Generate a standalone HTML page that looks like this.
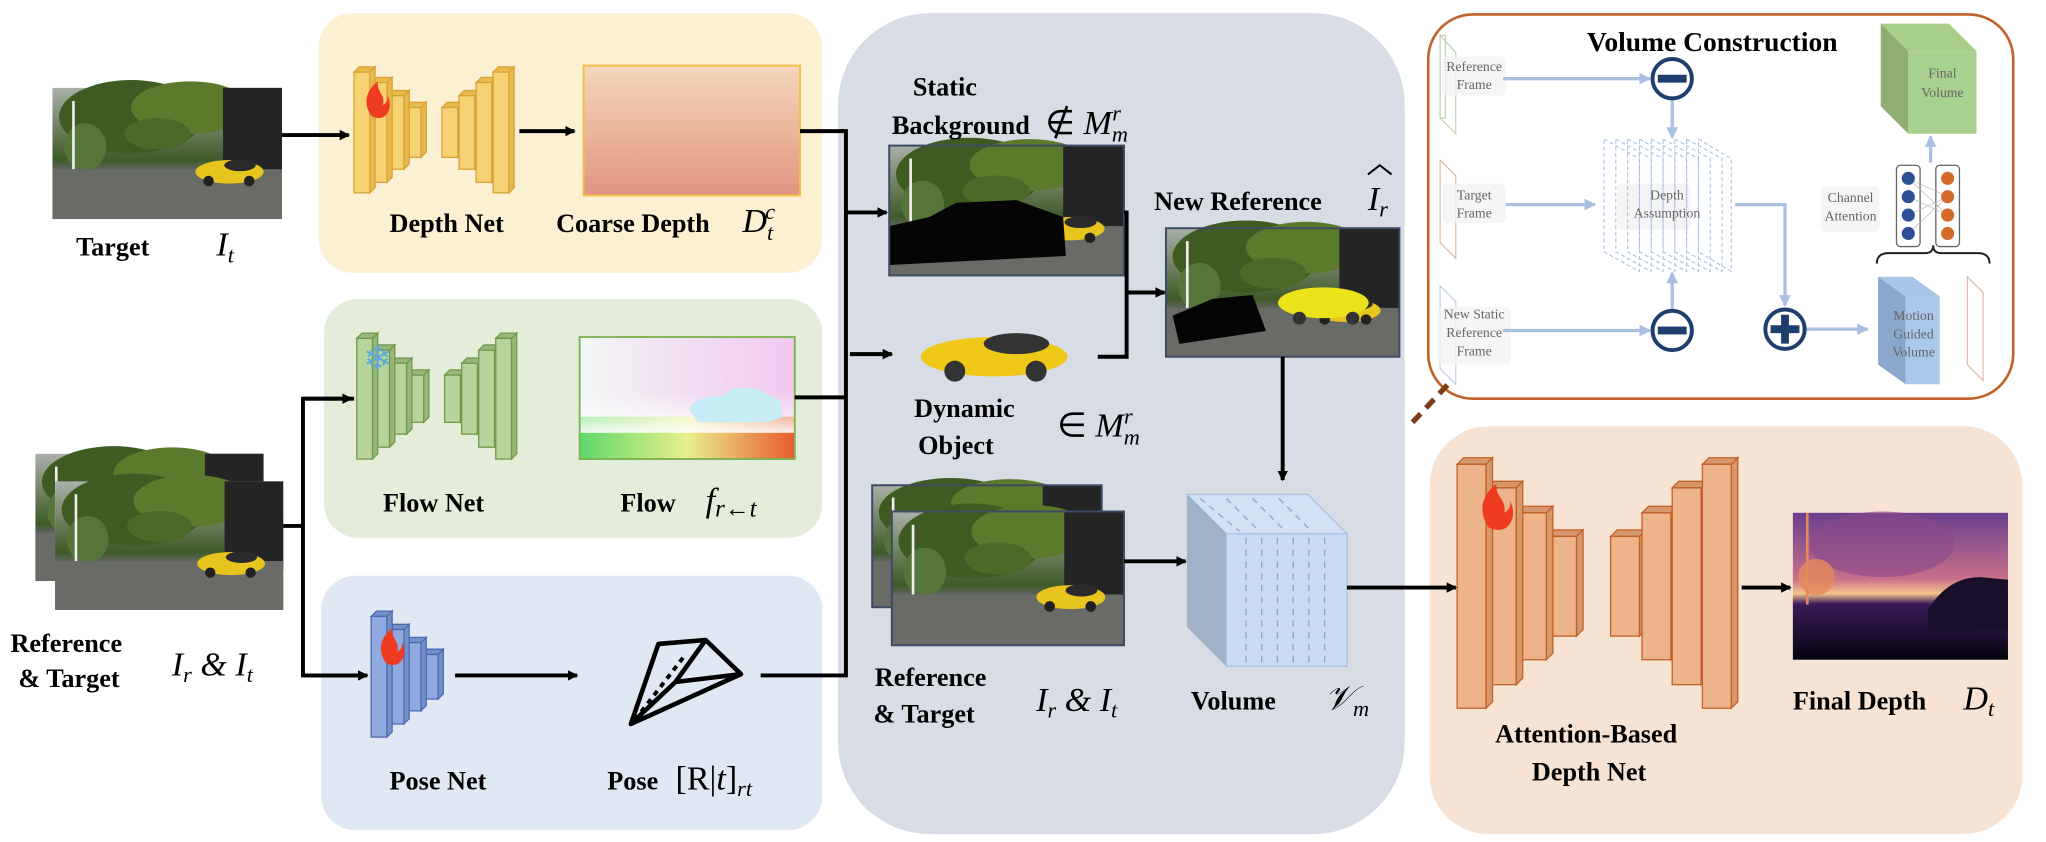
<!DOCTYPE html>
<html><head><meta charset="utf-8"><style>
html,body{margin:0;padding:0;background:#fff;width:2046px;height:842px;overflow:hidden}
svg{display:block}
.b{font-family:"Liberation Serif",serif;font-weight:bold;font-size:20px;fill:#000}
.m{font-family:"Liberation Serif",serif;font-style:italic;font-size:26px;fill:#000}
.s{font-family:"Liberation Serif",serif;font-size:10.5px;fill:#666}
</style></head><body>
<svg id="sv" width="2046" height="842" viewBox="0 0 1560 642" preserveAspectRatio="none" xmlns="http://www.w3.org/2000/svg">
<defs>
<marker id="ah" markerWidth="8" markerHeight="8" refX="7" refY="4" orient="auto" markerUnits="userSpaceOnUse"><path d="M0,0 L8,4 L0,8z" fill="#000"/></marker>
<marker id="al" markerWidth="9" markerHeight="9" refX="8" refY="4.5" orient="auto" markerUnits="userSpaceOnUse"><path d="M0,0 L9,4.5 L0,9z" fill="#a9c0e3"/></marker>
<linearGradient id="sky" x1="0" y1="0" x2="0" y2="1"><stop offset="0" stop-color="#a9b0a8"/><stop offset="0.55" stop-color="#3f5a28"/><stop offset="0.62" stop-color="#5f645f"/><stop offset="1" stop-color="#70736c"/></linearGradient>
<linearGradient id="cd" x1="0" y1="0" x2="0" y2="1"><stop offset="0" stop-color="#f4d8bd"/><stop offset="0.45" stop-color="#ecb99f"/><stop offset="1" stop-color="#df9583"/></linearGradient>
<linearGradient id="fl1" x1="0" y1="0" x2="1" y2="0"><stop offset="0" stop-color="#f2f6f5"/><stop offset="1" stop-color="#f2c8ef"/></linearGradient>
<linearGradient id="fl2" x1="0" y1="0" x2="1" y2="0"><stop offset="0" stop-color="#5fd86a"/><stop offset="0.5" stop-color="#e8ef8c"/><stop offset="1" stop-color="#ea5a2c"/></linearGradient>
<linearGradient id="fl3" x1="0" y1="0" x2="0" y2="1"><stop offset="0" stop-color="#fff" stop-opacity="0"/><stop offset="1" stop-color="#fff" stop-opacity="1"/></linearGradient>
<linearGradient id="fd" x1="0" y1="0" x2="0" y2="1"><stop offset="0" stop-color="#6a3f8e"/><stop offset="0.45" stop-color="#c7708a"/><stop offset="0.55" stop-color="#f4c28a"/><stop offset="0.62" stop-color="#3b1c5a"/><stop offset="1" stop-color="#05040e"/></linearGradient>
<g id="photo">
<rect width="175" height="100" fill="url(#sky)"/>
<ellipse cx="60" cy="22" rx="55" ry="28" fill="#3e5b22"/>
<ellipse cx="105" cy="15" rx="45" ry="20" fill="#5b7a2c"/>
<ellipse cx="80" cy="35" rx="25" ry="12" fill="#4a6a28"/>
<ellipse cx="25" cy="45" rx="16" ry="18" fill="#56753a"/>
<polygon points="130,0 175,0 175,70 130,55" fill="#242424"/>
<rect x="15" y="10" width="2" height="58" fill="#eee"/>
<rect x="0" y="62" width="175" height="38" fill="#686b66"/>
<ellipse cx="135" cy="64" rx="26" ry="9" fill="#e8c51e"/>
<ellipse cx="143" cy="59" rx="12" ry="4.5" fill="#2a2a2a"/>
<circle cx="119" cy="71" r="4" fill="#222"/><circle cx="150" cy="71" r="4" fill="#222"/>
</g>
</defs>

<!-- panels -->
<rect x="243" y="10" width="384" height="198" rx="26" fill="#fbf0d2"/>
<rect x="247" y="228" width="380" height="182" rx="26" fill="#e4ecda"/>
<rect x="245" y="439" width="382" height="194" rx="26" fill="#dfe8f3"/>
<rect x="639" y="10" width="432" height="626" rx="70" fill="#d7dce5"/>
<rect x="1090" y="325" width="452" height="311" rx="45" fill="#f6e3d4"/>
<rect x="1089" y="11" width="446" height="293" rx="34" fill="#fff" stroke="#c0622a" stroke-width="2"/>
<line x1="1077" y1="322" x2="1106" y2="291" stroke="#7a3d17" stroke-width="4" stroke-dasharray="9,6"/>

<!-- photos -->
<use href="#photo" transform="translate(40,67)"/>
<use href="#photo" transform="translate(27,346) scale(0.994,0.97)"/>
<use href="#photo" transform="translate(42,367) scale(0.994,0.98)"/>
<g transform="translate(678,111) scale(1.02,0.99)"><use href="#photo"/><path d="M0,62 L30,55 L50,44 L95,42 L130,55 L132,85 L0,92z" fill="#050505"/></g>
<rect x="678" y="111" width="179" height="99" fill="none" stroke="#3d4a66" stroke-width="1.5"/>
<g transform="translate(889,174) scale(1.017,0.98)"><use href="#photo"/><path d="M5,68 L35,55 L65,52 L75,80 L10,90z" fill="#050505"/><ellipse cx="118" cy="58" rx="34" ry="12" fill="#ece21a"/><circle cx="100" cy="70" r="5" fill="#333"/><circle cx="140" cy="70" r="5" fill="#333"/></g>
<rect x="889" y="174" width="178" height="98" fill="none" stroke="#3d4a66" stroke-width="1.5"/>
<use href="#photo" transform="translate(665,370) scale(1,0.93)"/>
<rect x="665" y="370" width="175" height="93" fill="none" stroke="#3d4a66" stroke-width="1.5"/>
<use href="#photo" transform="translate(680,390) scale(1.011,1.02)"/>
<rect x="680" y="390" width="177" height="102" fill="none" stroke="#3d4a66" stroke-width="1.5"/>
<!-- dynamic car -->
<ellipse cx="758" cy="272" rx="56" ry="15" fill="#f0c818"/>
<ellipse cx="775" cy="262" rx="25" ry="8" fill="#333"/>
<circle cx="728" cy="283" r="8" fill="#333"/><circle cx="790" cy="283" r="8" fill="#333"/>

<!-- coarse depth -->
<rect x="445" y="50" width="165" height="99" fill="url(#cd)" stroke="#f2bf45" stroke-width="1.5"/>
<!-- flow -->
<rect x="442" y="257" width="164" height="93" fill="url(#fl2)" stroke="#7fb455" stroke-width="1.5"/>
<rect x="442.7" y="257.7" width="162.6" height="60" fill="url(#fl1)"/>
<rect x="442.7" y="300" width="162.6" height="30" fill="url(#fl3)" opacity="0.9"/>
<path d="M525,312 Q530,302 550,302 L560,296 L575,296 L595,305 L597,318 L585,322 L532,322z" fill="#c8ecf5"/>
<!-- final depth -->
<rect x="1367" y="391" width="164" height="112" fill="url(#fd)"/>
<ellipse cx="1435" cy="415" rx="55" ry="25" fill="#8a4a8a" opacity="0.6"/>
<ellipse cx="1385" cy="440" rx="14" ry="14" fill="#e58a5a" opacity="0.8"/>
<rect x="1377" y="391" width="2" height="70" fill="#e58a5a"/>
<path d="M1470,465 Q1485,440 1510,440 L1531,442 L1531,480 L1470,482z" fill="#1a0f2a"/>

<g id="bars"></g>

<!-- flames / snowflake -->
<path d="M283,88 C276,78 280,68 288,62 C287,70 294,72 292,80 C296,78 296,74 295,72 C300,80 296,90 289,90 C286,90 284,89 283,88z" fill="#ee3b22"/>
<path d="M294,505 C287,495 291,485 299,479 C298,487 305,489 303,497 C307,495 307,491 306,489 C311,497 307,507 300,507 C297,507 295,506 294,505z" fill="#ee3b22"/>
<path d="M1135,402 C1126,389 1131,376 1141,369 C1140,379 1149,381 1147,391 C1152,388 1152,384 1151,381 C1157,392 1152,404 1143,404 C1139,404 1136,403 1135,402z" fill="#ee3b22"/>
<text x="277" y="282" font-size="26" fill="#5aa8dc" font-family="DejaVu Sans,sans-serif">❄</text>

<!-- pose icon -->
<g stroke="#000" stroke-width="3.5" fill="none" stroke-linejoin="round">
<path d="M481,552 L502,491 L538,488 L565,514 L515,520 z"/>
<path d="M538,488 L515,520"/>
<path d="M481,552 L565,514"/>
<path d="M484,549 L522,500" stroke-dasharray="4,4" stroke-width="3"/>
</g>

<!-- volume cube -->
<polygon points="905,377 997,377 1027,407 935,407" fill="#d3e2f3" stroke="#a8c3e6"/>
<polygon points="905,377 935,407 935,508 905,478" fill="#9fb2c6"/>
<rect x="935" y="407" width="92" height="101" fill="#c9dcf2" stroke="#a8c3e6"/>
<g stroke="#8aa6d0" stroke-dasharray="5,4" stroke-width="1">
<line x1="950" y1="410" x2="950" y2="505"/><line x1="962" y1="410" x2="962" y2="505"/><line x1="974" y1="410" x2="974" y2="505"/><line x1="986" y1="410" x2="986" y2="505"/><line x1="998" y1="410" x2="998" y2="505"/><line x1="1010" y1="410" x2="1010" y2="505"/>
<line x1="915" y1="380" x2="945" y2="405"/><line x1="935" y1="380" x2="960" y2="405"/><line x1="955" y1="380" x2="980" y2="405"/><line x1="975" y1="380" x2="1000" y2="405"/>
</g>

<!-- connectors -->
<g stroke="#000" stroke-width="3" fill="none">
<line x1="215" y1="103" x2="266" y2="103" marker-end="url(#ah)"/>
<line x1="396" y1="100" x2="438" y2="100" marker-end="url(#ah)"/>
<polyline points="610,100 645,100 645,515 580,515"/>
<line x1="645" y1="162" x2="676" y2="162" marker-end="url(#ah)"/>
<line x1="648" y1="270" x2="680" y2="270" marker-end="url(#ah)"/>
<line x1="606" y1="303" x2="645" y2="303"/>
<line x1="216" y1="401" x2="231" y2="401"/>
<polyline points="270,304 231,304 231,515 280,515"/>
<line x1="231" y1="304" x2="268" y2="304" marker-end="url(#ah)"/>
<line x1="231" y1="515" x2="280" y2="515" marker-end="url(#ah)"/>
<line x1="347" y1="515" x2="440" y2="515" marker-end="url(#ah)"/>
<polyline points="857,162 859,162 859,272 837,272"/>
<line x1="859" y1="223" x2="888" y2="223" marker-end="url(#ah)"/>
<line x1="978" y1="272" x2="978" y2="366" marker-end="url(#ah)"/>
<line x1="857" y1="428" x2="904" y2="428" marker-end="url(#ah)"/>
<line x1="1027" y1="448" x2="1110" y2="448" marker-end="url(#ah)"/>
<line x1="1328" y1="448" x2="1365" y2="448" marker-end="url(#ah)"/>
</g>

<!-- volume construction internals -->
<g fill="none" stroke-width="0.8">
<g stroke="#b7cca8"><polygon points="1098,27 1110,40 1110,102 1098,90"/><rect x="1098" y="27" width="4" height="63"/></g>
<g stroke="#d9b09a"><polygon points="1098,122 1110,134 1110,197 1098,185"/></g>
<g stroke="#b8c8e2"><polygon points="1098,218 1110,230 1110,293 1098,281"/></g>
<g stroke="#d9b09a"><polygon points="1500,211 1512,223 1512,290 1500,278"/></g>
</g>
<g fill="#f3f3f3" opacity="0.8"><rect x="1100" y="43" width="48" height="30" rx="4"/><rect x="1100" y="140" width="48" height="30" rx="4"/><rect x="1096" y="234" width="56" height="44" rx="4"/><rect x="1233" y="140" width="56" height="35" rx="4"/><rect x="1388" y="142" width="45" height="35" rx="4"/></g>
<g stroke="#a9c0e3" stroke-width="2.5" fill="none">
<line x1="1146" y1="60" x2="1258" y2="60" marker-end="url(#al)"/>
<line x1="1148" y1="156" x2="1216" y2="156" marker-end="url(#al)"/>
<line x1="1146" y1="252" x2="1258" y2="252" marker-end="url(#al)"/>
<line x1="1275" y1="76" x2="1275" y2="105" marker-end="url(#al)"/>
<line x1="1275" y1="236" x2="1275" y2="208" marker-end="url(#al)"/>
<polyline points="1323,156 1361,156 1361,233" marker-end="url(#al)"/>
<line x1="1377" y1="251" x2="1424" y2="251" marker-end="url(#al)"/>
<line x1="1472" y1="124" x2="1472" y2="104" marker-end="url(#al)"/>
</g>
<g stroke="#a9c0e3" stroke-width="0.8" stroke-dasharray="3,2" fill="none">
<polygon points="1223,106 1250,121 1250,207 1223,192"/><polygon points="1232,106 1259,121 1259,207 1232,192"/><polygon points="1241,106 1268,121 1268,207 1241,192"/><polygon points="1250,106 1277,121 1277,207 1250,192"/><polygon points="1259,106 1286,121 1286,207 1259,192"/><polygon points="1268,106 1295,121 1295,207 1268,192"/><polygon points="1277,106 1304,121 1304,207 1277,192"/><polygon points="1286,106 1313,121 1313,207 1286,192"/><polygon points="1295,106 1320,121 1320,207 1295,192"/>
</g>
<g stroke="#1e3f6e" stroke-width="3" fill="#fff">
<circle cx="1275" cy="60" r="15"/><circle cx="1275" cy="252" r="15"/><circle cx="1361" cy="251" r="15"/>
</g>
<g fill="#1e3f6e"><rect x="1264" y="57" width="22" height="6"/><rect x="1264" y="249" width="22" height="6"/><rect x="1350" y="248" width="22" height="6"/><rect x="1358" y="240" width="6" height="22"/></g>
<!-- final volume green -->
<polygon points="1434,18 1486,18 1507,39 1455,39" fill="#a8cf8a"/>
<polygon points="1434,18 1455,39 1455,102 1434,81" fill="#8fae74"/>
<rect x="1455" y="39" width="52" height="63" fill="#a8d190"/>
<!-- motion volume blue -->
<polygon points="1432,211 1458,211 1479,226 1453,226" fill="#a7c5e6"/>
<polygon points="1432,211 1453,226 1453,293 1432,278" fill="#8aa8cc"/>
<rect x="1453" y="226" width="26" height="67" fill="#a9c8ea"/>
<path d="M1431,201 Q1431,193 1440,193 L1468,193 Q1474,193 1474,187 Q1474,193 1480,193 L1508,193 Q1517,193 1517,201" stroke="#222" stroke-width="1.5" fill="none"/>
<!-- channel attention -->
<rect x="1446" y="126" width="18" height="62" rx="3" fill="#fff" stroke="#666"/>
<rect x="1476" y="126" width="18" height="62" rx="3" fill="#fff" stroke="#666"/>
<g stroke="#bbb" stroke-width="0.5"><line x1="1455" y1="136" x2="1485" y2="150"/><line x1="1455" y1="150" x2="1485" y2="164"/><line x1="1455" y1="164" x2="1485" y2="150"/><line x1="1455" y1="178" x2="1485" y2="150"/><line x1="1455" y1="136" x2="1485" y2="164"/></g>
<g fill="#2c4f96"><circle cx="1455" cy="136" r="5"/><circle cx="1455" cy="150" r="5"/><circle cx="1455" cy="164" r="5"/><circle cx="1455" cy="178" r="5"/></g>
<g fill="#d4692a"><circle cx="1485" cy="136" r="5"/><circle cx="1485" cy="150" r="5"/><circle cx="1485" cy="164" r="5"/><circle cx="1485" cy="178" r="5"/></g>

<g class="s" text-anchor="middle">
<text x="1124" y="54">Reference</text><text x="1124" y="68">Frame</text>
<text x="1124" y="152">Target</text><text x="1124" y="166">Frame</text>
<text x="1124" y="243">New Static</text><text x="1124" y="257">Reference</text><text x="1124" y="271">Frame</text>
<text x="1271" y="152">Depth</text><text x="1271" y="166">Assumption</text>
<text x="1411" y="154">Channel</text><text x="1411" y="168">Attention</text>
<text x="1481" y="59">Final</text><text x="1481" y="74">Volume</text>
<text x="1459" y="244">Motion</text><text x="1459" y="258">Guided</text><text x="1459" y="272">Volume</text>
</g>
<text class="b" x="1210" y="39" style="font-size:21px">Volume Construction</text>

<!-- labels -->
<text class="b" x="58" y="195">Target</text><text class="m" x="165" y="195">I<tspan font-size="17" dy="5">t</tspan></text>
<text class="b" x="297" y="177">Depth Net</text>
<text class="b" x="424" y="177">Coarse Depth</text><text class="m" x="566" y="177">D<tspan font-size="17" dy="6">t</tspan><tspan font-size="17" dx="-6" dy="-16">c</tspan></text>
<text class="b" x="292" y="390">Flow Net</text>
<text class="b" x="473" y="390">Flow</text><text class="m" x="538" y="390">f<tspan font-size="19" dy="4">r←t</tspan></text>
<text class="b" x="8" y="497">Reference</text><text class="b" x="14" y="524">&amp; Target</text>
<text class="m" x="131" y="515">I<tspan font-size="17" dy="5">r</tspan><tspan dy="-5"> &amp; I</tspan><tspan font-size="17" dy="5">t</tspan></text>
<text class="b" x="297" y="602">Pose Net</text>
<text class="b" x="463" y="602">Pose</text><text x="515" y="602" font-family="Liberation Serif,serif" font-size="26">[R|<tspan font-style="italic">t</tspan>]<tspan font-style="italic" font-size="17" dy="5">rt</tspan></text>
<text class="b" x="696" y="73">Static</text>
<text class="b" x="680" y="102">Background</text><text class="m" x="797" y="102" style="font-style:normal">∉ <tspan font-style="italic">M</tspan><tspan font-style="italic" font-size="17" dy="6">m</tspan><tspan font-style="italic" font-size="17" dx="-12" dy="-16">r</tspan></text>
<text class="b" x="697" y="318">Dynamic</text><text class="b" x="700" y="346">Object</text>
<text class="m" x="806" y="333" style="font-style:normal">∈ <tspan font-style="italic">M</tspan><tspan font-style="italic" font-size="17" dy="6">m</tspan><tspan font-style="italic" font-size="17" dx="-12" dy="-16">r</tspan></text>
<text class="b" x="880" y="160">New Reference</text><text class="m" x="1043" y="160">I<tspan font-size="17" dy="5">r</tspan></text>
<path d="M1043,133 L1052,126 L1061,133" stroke="#000" stroke-width="1.5" fill="none"/>
<text class="b" x="667" y="523">Reference</text><text class="b" x="666" y="551">&amp; Target</text>
<text class="m" x="790" y="542">I<tspan font-size="17" dy="5">r</tspan><tspan dy="-5"> &amp; I</tspan><tspan font-size="17" dy="5">t</tspan></text>
<text class="b" x="908" y="541">Volume</text><text class="m" x="1010" y="541">𝒱<tspan font-size="17" dy="5">m</tspan></text>
<text class="b" x="1140" y="566">Attention-Based</text><text class="b" x="1168" y="595">Depth Net</text>
<text class="b" x="1367" y="541">Final Depth</text><text class="m" x="1497" y="541">D<tspan font-size="17" dy="5">t</tspan></text>
</svg>
<script>
(function(){
var g=document.getElementById('bars'),s='';
function bar(x,y,w,h,d,f,sd,st){
 s+='<polygon points="'+(x+w)+','+y+' '+(x+w+d)+','+(y-d)+' '+(x+w+d)+','+(y+h-d)+' '+(x+w)+','+(y+h)+'" fill="'+sd+'" stroke="'+st+'"/>';
 s+='<polygon points="'+x+','+y+' '+(x+d)+','+(y-d)+' '+(x+w+d)+','+(y-d)+' '+(x+w)+','+y+'" fill="'+sd+'" stroke="'+st+'"/>';
 s+='<rect x="'+x+'" y="'+y+'" width="'+w+'" height="'+h+'" fill="'+f+'" stroke="'+st+'"/>';
}
var Y=['#f7d272','#e9b94e','#d9a236'],G=['#b7d49c','#98b77c','#6f9a4c'],B=['#91a9de','#7390c8','#4d6bb0'],O=['#edb48a','#d8976a','#c0622a'];
function enc(xs,hs,cy,w,d,c){for(var i=xs.length-1;i>=0;i--) bar(xs[i],cy-hs[i]/2,w,hs[i],d,c[0],c[1],c[2]);}
function dec(xs,hs,cy,w,d,c){for(var i=0;i<xs.length;i++) bar(xs[i],cy-hs[i]/2,w,hs[i],d,c[0],c[1],c[2]);}
enc([270,283,296,309],[92,76,56,38],101,12,4,Y);
dec([337,350,363,376],[38,56,76,92],101,12,4,Y);
enc([272,285,298,311],[92,74,54,36],304,12,4,G);
dec([339,352,365,378],[36,54,74,92],304,12,4,G);
enc([283,296,309,322],[92,72,52,34],516,12,4,B);
enc([1111,1134,1157,1180],[186,150,112,76],447,22,5,O);
dec([1228,1252,1275,1298],[76,112,150,186],447,22,5,O);
g.innerHTML=s;
})();
</script>
</body></html>
